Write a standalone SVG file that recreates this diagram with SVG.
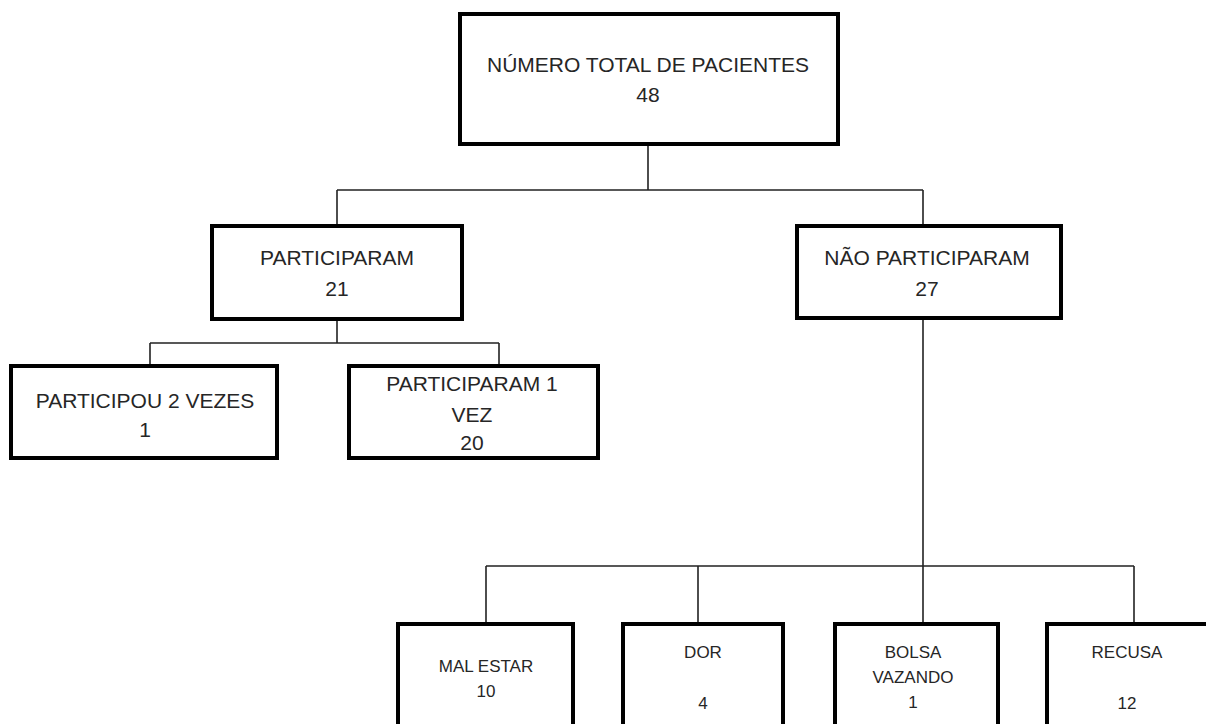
<svg xmlns="http://www.w3.org/2000/svg" width="1206" height="724" viewBox="0 0 1206 724">
<style>
.box{fill:#fff;stroke:#000;stroke-width:4}
.con{fill:none;stroke:#222;stroke-width:1.6}
text{font-family:"Liberation Sans",Arial,sans-serif;fill:#262626;text-anchor:middle}
.t{font-size:21px}
.s{font-size:17px}
</style>
<rect width="1206" height="724" fill="#fff"/>
<g id="connectors">
<path class="con" d="M648 144V190M337 190H923M337 190V226M923 190V226"/>
<path class="con" d="M337 319V343M150 343H499M150 343V366M499 343V366"/>
<path class="con" d="M923 318V566M486 566H1134M486 566V624M698 566V624M923 566V624M1134 566V624"/>
</g>
<g id="total">
<rect class="box" x="460" y="14" width="378" height="130"/>
<text class="t" x="648" y="72">NÚMERO TOTAL DE PACIENTES</text>
<text class="t" x="648" y="102">48</text>
</g>
<g id="participaram">
<rect class="box" x="212" y="226" width="250" height="93"/>
<text class="t" x="337" y="265">PARTICIPARAM</text>
<text class="t" x="337" y="296">21</text>
</g>
<g id="nao-participaram">
<rect class="box" x="797" y="226" width="264" height="92"/>
<text class="t" x="927" y="265">NÃO PARTICIPARAM</text>
<text class="t" x="927" y="296">27</text>
</g>
<g id="participou-2">
<rect class="box" x="11" y="366" width="266" height="92"/>
<text class="t" x="145" y="408">PARTICIPOU 2 VEZES</text>
<text class="t" x="145" y="437">1</text>
</g>
<g id="participaram-1">
<rect class="box" x="349" y="366" width="249" height="92"/>
<text class="t" x="472" y="391">PARTICIPARAM 1</text>
<text class="t" x="472" y="422">VEZ</text>
<text class="t" x="472" y="450">20</text>
</g>
<g id="mal-estar">
<rect class="box" x="398" y="624" width="175" height="120"/>
<text class="s" x="486" y="672">MAL ESTAR</text>
<text class="s" x="486" y="697">10</text>
</g>
<g id="dor">
<rect class="box" x="623" y="624" width="160" height="120"/>
<text class="s" x="703" y="658">DOR</text>
<text class="s" x="703" y="709">4</text>
</g>
<g id="bolsa">
<rect class="box" x="835" y="624" width="163" height="120"/>
<text class="s" x="913" y="658">BOLSA</text>
<text class="s" x="913" y="683">VAZANDO</text>
<text class="s" x="913" y="708">1</text>
</g>
<g id="recusa">
<rect class="box" x="1047" y="624" width="180" height="120"/>
<text class="s" x="1127" y="658">RECUSA</text>
<text class="s" x="1127" y="709">12</text>
</g>
</svg>
